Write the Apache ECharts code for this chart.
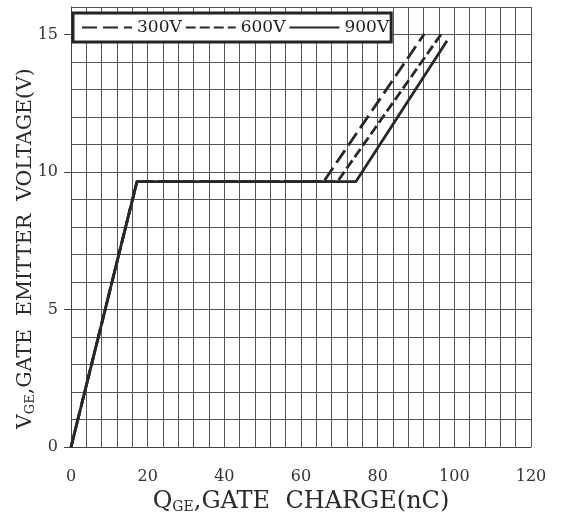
<!DOCTYPE html>
<html>
<head>
<meta charset="utf-8">
<script src="https://cdn.jsdelivr.net/npm/echarts@6/dist/echarts.min.js"></script>
<style>
  html, body { margin: 0; padding: 0; background: #fff; }
  #chart { width: 566px; height: 519px; }
</style>
</head>
<body>
<div id="chart"></div>
<script>
// 数据
const seriesNames = ['300V', '600V', '900V']
const v300 = [[0, 0], [17.2, 9.65], [65.9, 9.65], [92.2, 15.03]]
const v600 = [[0, 0], [17.2, 9.65], [69.5, 9.65], [96.8, 15.06]]
const v900 = [[0, 0], [17.2, 9.65], [74.3, 9.65], [98.1, 14.77]]
const xLabelStep = 20
const yLabelStep = 5

const font = 'DejaVu Serif'
const ink = '#25292d'
const gridColor = '#555'

const chart = echarts.init(document.getElementById('chart'))

const lineSeries = (name, data, type) => ({
  name: name,
  type: 'line',
  data: data,
  symbol: 'none',
  lineStyle: { color: ink, width: 2.8, type: type },
  itemStyle: { color: ink }
})

const makeRich = (size, subSize, subPad) => ({
  a: { fontFamily: font, fontSize: size, color: '#2a2a2a' },
  s: { fontFamily: font, fontSize: subSize, color: '#2a2a2a', padding: [subPad, 0, 0, 0] }
})

chart.setOption({
  animation: false,
  grid: { left: 71, right: 35, top: 7, bottom: 67 },
  legend: {
    data: seriesNames,
    left: 73,
    top: 13,
    padding: [6, 2, 6, 8],
    itemGap: 3,
    itemWidth: 50,
    itemHeight: 14,
    backgroundColor: '#fff',
    borderColor: '#222',
    borderWidth: 3,
    borderRadius: 0,
    itemStyle: { opacity: 0 },
    textStyle: { fontFamily: font, fontSize: 17, color: '#222', padding: [0, 0, 0, 0] }
  },
  xAxis: {
    type: 'value',
    min: 0,
    max: 120,
    interval: 4,
    offset: 12,
    axisLine: { show: true, lineStyle: { color: '#444', width: 1 } },
    axisTick: { show: false },
    axisLabel: {
      margin: 10,
      fontFamily: font,
      fontSize: 16,
      color: '#333',
      formatter: v => (v % xLabelStep === 0 ? String(v) : '')
    },
    splitLine: { show: true, lineStyle: { color: gridColor, width: 1 } },
    name: '{a|Q}{s|GE}{a|,GATE  CHARGE(nC)}',
    nameLocation: 'middle',
    nameGap: 30,
    nameTextStyle: { rich: makeRich(24, 14, 10) }
  },
  yAxis: [
    {
      type: 'value',
      min: 0,
      max: 16,
      interval: 1,
      axisLine: { show: true, lineStyle: { color: '#444', width: 1 } },
      axisTick: { show: false },
      axisLabel: { show: false },
      splitLine: { show: true, lineStyle: { color: gridColor, width: 1 } },
      name: '{a|V}{s|GE}{a|,GATE  EMITTER  VOLTAGE(V)}',
      nameLocation: 'middle',
      nameGap: 34,
      nameTextStyle: { padding: [0, 43, 0, 0], rich: makeRich(20.5, 13, 9) }
    },
    {
      type: 'value',
      position: 'left',
      min: 0,
      max: 16,
      interval: yLabelStep,
      axisLine: { show: false },
      axisTick: { show: true, length: 7, lineStyle: { color: '#444' } },
      axisLabel: {
        margin: 13,
        fontFamily: font,
        fontSize: 16,
        color: '#333',
        showMaxLabel: false
      },
      splitLine: { show: false }
    }
  ],
  series: [
    lineSeries(seriesNames[0], v300, [15, 6]),
    lineSeries(seriesNames[1], v600, [10, 4]),
    lineSeries(seriesNames[2], v900, 'solid')
  ]
})

window.addEventListener('resize', () => chart.resize())
</script>
</body>
</html>
